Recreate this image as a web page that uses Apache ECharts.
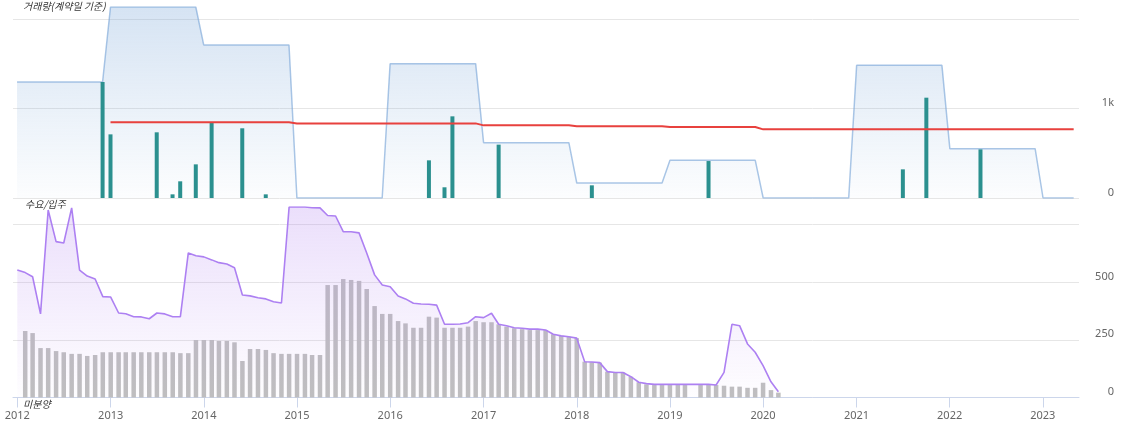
<!DOCTYPE html>
<html><head><meta charset="utf-8">
<script src="https://cdn.jsdelivr.net/npm/echarts@6/dist/echarts.min.js"></script>
<style>html,body{margin:0;padding:0;background:#fff}#c{width:1129px;height:436px}</style>
</head><body><div id="c"></div>
<script>
// ---- data ----
const years = [2012, 2013, 2014, 2015, 2016, 2017, 2018, 2019, 2020, 2021, 2022, 2023];
const tradeVolumeByYear = [1300, 2140, 1715, 0, 1505, 620, 168, 422, 0, 1486, 553, 0];
const lastMonthOf2023 = 5;
const avgLineYears = [2013, 2014, 2015, 2016, 2017, 2018, 2019, 2020, 2021, 2022, 2023];
const avgLineByYear = [848, 848, 836, 836, 814, 803, 795, 769, 769, 769, 769];
const monthlyTradeMonths = ['2012-12', '2013-01', '2013-07', '2013-09', '2013-10', '2013-12', '2014-02', '2014-06', '2014-09',
  '2016-06', '2016-08', '2016-09', '2017-03', '2018-03', '2019-06', '2021-07', '2021-10', '2022-05'];
const monthlyTradeValues = [1300, 713, 736, 41, 187, 377, 840, 781, 41,
  422, 120, 915, 598, 142, 414, 321, 1124, 545];
const demandStart = [2012, 1];
const demandValues = [552, 541, 523, 362, 812, 675, 669, 821, 552, 526, 513, 437,
  435, 366, 363, 350, 349, 341, 366, 362, 350, 350, 626, 614,
  609, 596, 584, 578, 562, 444, 440, 432, 427, 415, 409, 825,
  825, 825, 822, 821, 788, 786, 718, 718, 713, 626, 531, 487,
  480, 440, 427, 408, 405, 404, 400, 317, 317, 318, 324, 350,
  346, 365, 317, 311, 302, 300, 296, 296, 292, 274, 267, 263,
  257, 155, 154, 151, 112, 108, 108, 90, 66, 60, 57, 57,
  57, 57, 57, 57, 57, 57, 54, 109, 317, 311, 232, 196,
  138, 68, 25];
const unsoldValues = [null, 288, 279, 214, 214, 201, 196, 189, 189, 180, 184, 196,
  196, 196, 196, 196, 196, 196, 196, 196, 196, 192, 192, 249,
  249, 249, 245, 245, 239, 158, 210, 210, 206, 192, 189, 189,
  189, 189, 184, 184, 487, 487, 513, 509, 505, 470, 396, 362,
  362, 331, 321, 302, 302, 350, 346, 302, 302, 302, 307, 331,
  326, 326, 317, 307, 300, 296, 292, 292, 292, 274, 267, 263,
  257, 155, 153, 151, 112, 109, 109, 90, 66, 57, 54, 54,
  54, 54, 54, null, 54, 54, 54, 51, 47, 47, 42, 42,
  64, 32, 21];
const topLabel = '거래량(계약일 기준)';
const midLabel = '수요/입주';
const bottomLabel = '미분양';

// ---- build monthly tables ----
const pad = n => (n < 10 ? '0' : '') + n;
function monthKey(y, m) { return y + '-' + pad(m) + '-01'; }
function expandYears(ys, vals) {
  const out = [];
  ys.forEach((y, i) => {
    const last = (y === 2023) ? lastMonthOf2023 : 12;
    for (let m = 1; m <= last; m++) out.push([monthKey(y, m), vals[i]]);
  });
  return out;
}
function monthlySeries(vals) {
  return vals.map((v, i) => {
    const t = demandStart[1] - 1 + i;
    return [monthKey(demandStart[0] + Math.floor(t / 12), t % 12 + 1), v];
  });
}
const blueData = expandYears(years, tradeVolumeByYear);
const redData = expandYears(avgLineYears, avgLineByYear);
const tealData = monthlyTradeMonths.map((m, i) => [m + '-01', monthlyTradeValues[i]]);
const purpleData = monthlySeries(demandValues);
const greyData = monthlySeries(unsoldValues);

const xMin = '2011-12-24', xMax = '2023-05-14';
const labelFont = '"Noto Sans", "Noto Sans CJK KR", sans-serif';
const grad = (r, g, b, a0, a1, y0, y1) => new echarts.graphic.LinearGradient(0, y0, 0, y1,
  [{offset: 0, color: `rgba(${r},${g},${b},${a0})`}, {offset: 1, color: `rgba(${r},${g},${b},${a1})`}], true);

const chart = echarts.init(document.getElementById('c'));
chart.setOption({
  animation: false,
  grid: [
    {left: 13, right: 50, top: 7, height: 191},
    {left: 13, right: 50, top: 207, height: 190.5}
  ],
  xAxis: [
    {type: 'time', gridIndex: 0, min: xMin, max: xMax, show: false, splitLine: {show: false}},
    {type: 'time', gridIndex: 1, min: xMin, max: xMax, offset: 5, splitNumber: 12,
      minInterval: 300 * 86400000,
      axisLine: {lineStyle: {color: '#ccd6eb', width: 1}},
      axisTick: {show: true, length: 10, lineStyle: {color: '#ccd6eb'}},
      splitLine: {show: false},
      axisLabel: {color: '#666', fontSize: 11, fontFamily: labelFont, margin: 8,
        formatter: v => String(new Date(v).getFullYear())}}
  ],
  yAxis: [
    {type: 'value', gridIndex: 0, position: 'right', min: 0, max: 'dataMax', interval: 1000,
      axisLine: {show: false}, axisTick: {show: false},
      splitLine: {show: true, showMaxLine: false, lineStyle: {color: '#e6e6e6'}},
      axisLabel: {color: '#666', fontSize: 11, fontFamily: labelFont, align: 'right', margin: 35,
        verticalAlign: 'bottom',
        formatter: v => (v >= 2000 ? '' : (v >= 1000 ? (v / 1000) + 'k' : String(v)))}},
    {type: 'value', gridIndex: 1, position: 'right', min: 0, max: 'dataMax', interval: 250,
      axisLine: {show: false}, axisTick: {show: false},
      splitLine: {show: true, showMaxLine: false, lineStyle: {color: '#e6e6e6'}},
      axisLabel: {color: '#666', fontSize: 11, fontFamily: labelFont, align: 'right', margin: 35,
        verticalAlign: 'bottom',
        formatter: v => (v >= 750 ? '' : String(v))}}
  ],
  series: [
    {type: 'line', xAxisIndex: 0, yAxisIndex: 0, data: blueData, symbol: 'none',
      lineStyle: {color: 'rgba(124,168,217,0.65)', width: 1.5},
      areaStyle: {color: grad(124, 168, 217, 0.45, 0.03, 7, 198)}, z: 1},
    {type: 'bar', xAxisIndex: 0, yAxisIndex: 0, data: tealData, barWidth: 4,
      itemStyle: {color: '#2b908f'}, z: 2},
    {type: 'line', xAxisIndex: 0, yAxisIndex: 0, data: redData, symbol: 'none',
      lineStyle: {color: '#e8413e', width: 2}, z: 3},
    {type: 'bar', xAxisIndex: 1, yAxisIndex: 1, data: greyData, barWidth: 4.5,
      itemStyle: {color: '#bfbfbf'}, z: 1},
    {type: 'line', xAxisIndex: 1, yAxisIndex: 1, data: purpleData, symbol: 'none',
      lineStyle: {color: '#ad80f2', width: 1.6},
      areaStyle: {color: grad(176, 128, 240, 0.36, 0.02, 207, 398)}, z: 2}
  ],
  graphic: [
    {type: 'text', left: 23, top: 1, style: {text: topLabel, font: 'italic 10px "Noto Sans CJK KR"', fill: '#333'}},
    {type: 'text', left: 25, top: 199, style: {text: midLabel, font: 'italic 10px "Noto Sans CJK KR"', fill: '#333'}},
    {type: 'text', left: 23, top: 399, style: {text: bottomLabel, font: 'italic 10px "Noto Sans CJK KR"', fill: '#333'}}
  ]
});
</script></body></html>
